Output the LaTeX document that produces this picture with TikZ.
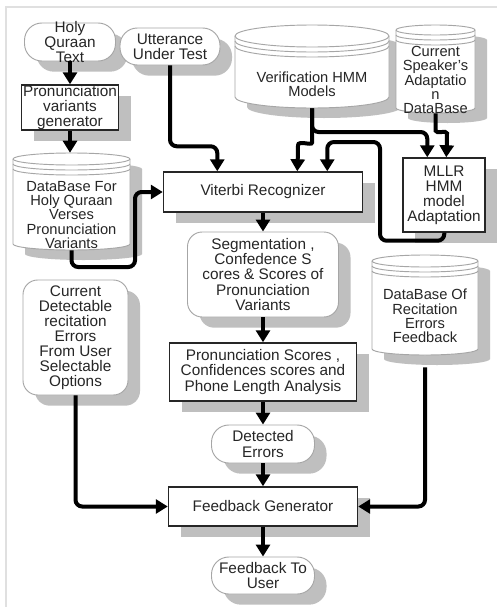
\documentclass[tikz,border=0pt]{standalone}
\usepackage{fontspec}
\setmainfont{Liberation Sans}
\usetikzlibrary{arrows.meta,shadows,fit,calc}
\newcommand\bx[7]{%
  \node[#1,minimum width=#5*0.75pt,minimum height=#6*0.75pt,name=#2] at (#3,-#4) {};
  \node[txt,name=#2t] at (#2.center) {#7};}
\newcommand\cylarc[3]{arc[start angle=#1,end angle=#2,x radius=\crx,y radius=#3]}
\newcommand\cyl[8]{%
  \pgfmathsetmacro\crx{(#4-#2)/2}%
  \pgfmathsetmacro\cyt{-(#3)-(#6)}%
  \pgfmathsetmacro\cyb{-(#5)+(#6)}%
  \pgfmathsetmacro\cya{\cyt-5}%
  \pgfmathsetmacro\cyc{\cyt-10}%
  \fill[black!25,shift={(12,-10)}] (#2,\cyt) -- (#2,\cyb) \cylarc{180}{360}{#6} -- (#4,\cyt) \cylarc{0}{180}{#6} -- cycle;
  \filldraw[cylline,fill=white] (#2,\cyt) -- (#2,\cyb) \cylarc{180}{360}{#6} -- (#4,\cyt) \cylarc{0}{180}{#6} -- cycle;
  \draw[cylline] (#2,\cyt) \cylarc{180}{360}{#6};
  \draw[cylline] (#2,\cya) \cylarc{180}{360}{#6};
  \draw[cylline] (#2,\cyc) \cylarc{180}{360}{#6};
  \node[fit={(#2,-#3) (#4,-#5)},inner sep=0pt,name=#1] {};
  \node[txt,font=\fontsize{11}{10.8}\selectfont,name=#1t] at ({(#2+#4)/2},-#7) {#8};}
\begin{document}
\begin{tikzpicture}[x=0.75pt,y=0.75pt,
  shad/.style={drop shadow={shadow xshift=9pt,shadow yshift=-8pt,fill=black!25,opacity=1}},
  rectbox/.style={draw=black!85,line width=1.1pt,fill=white,shad,inner sep=0pt},
  pill/.style={draw=black!35,line width=0.7pt,fill=white,rounded corners=13pt,shad,inner sep=0pt},
  rbox/.style={draw=black!35,line width=0.7pt,fill=white,rounded corners=11pt,shad,inner sep=0pt},
  txt/.style={align=center,inner sep=0pt,text=black!85,font=\fontsize{11.5}{11.3}\selectfont},
  conn/.style={line width=3pt,black,rounded corners=5pt,-{Triangle[length=9pt,width=10.5pt]}},
  cylline/.style={draw=black!35,line width=0.7pt},
]
\useasboundingbox (0,0) rectangle (497,-607);
\fill[white] (0,0) rectangle (497,-607);
\draw[black!12,line width=0.8pt] (6,-607) -- (6,-7) -- (497,-7);

\bx{pill}{holy}{70}{42}{91}{38}{Holy\\Quraan\\Text}
\bx{pill}{utt}{170}{46.5}{100}{37}{Utterance\\Under Test}
\bx{rectbox}{gen}{70}{107.5}{97}{45}{Pronunciation\\variants\\generator}
\cyl{verif}{235}{25}{389}{108}{11}{84}{Verification HMM\\Models}
\cyl{spk}{396}{25}{475}{113}{5}{80}{Current\\Speaker's\\Adaptatio\\n\\DataBase}
\cyl{dbholy}{13}{153}{130}{250}{6}{215}{DataBase For\\Holy Quraan\\Verses\\Pronunciation\\Variants}
\bx{rectbox}{vit}{263}{192}{199}{40}{Viterbi Recognizer}
\bx{rectbox}{mllr}{444}{195}{82}{74}{\fontsize{11.5}{12}\selectfont MLLR\\HMM\\model\\Adaptation}
\bx{rbox}{seg}{263}{274.5}{151}{85}{Segmentation ,\\Confedence S\\cores \& Scores of\\Pronunciation\\Variants}
\cyl{dbrec}{372}{255}{478}{355}{6}{316}{DataBase Of\\Recitation\\Errors\\Feedback}
\bx{rbox}{curdet}{75.5}{337.5}{105}{115}{Current\\Detectable\\recitation\\Errors\\From User\\Selectable\\Options}
\bx{rectbox}{pscore}{263}{372}{187}{58}{Pronunciation Scores ,\\Confidences scores and\\Phone Length Analysis}
\bx{pill}{det}{263}{444}{103}{38}{Detected\\Errors}
\bx{rectbox}{fg}{263}{506.5}{189}{39}{Feedback Generator}
\bx{pill}{fbu}{263}{575.5}{103}{37}{Feedback To\\User}

\draw[conn] (holy.south) -- (gen.north);
\draw[conn] (gen.south) -- (gen.south |- dbholy.north);
\draw[conn] (utt.south) |- ($(vit.north west)+(54.5,25)$) -- ($(vit.north west)+(54.5,0)$);
\draw[conn] (dbholy.south) |- (135,-267) |- (vit.west);
\draw[conn] (verif.south) -- (312,-132) -| ($(mllr.north west)+(25,0)$);
\draw[conn] (verif.south) -- (312,-136) .. controls (312,-146) and (298,-140) .. (298,-152) -- ($(vit.north west)+(134.5,0)$);
\draw[conn] (spk.south) -- (435.5,-124) .. controls (435.5,-134) and (447,-130) .. (447,-140) -- ($(mllr.north west)+(44,0)$);
\draw[conn] ($(mllr.south west)+(42,0)$) -- ++(0,-8) -| (380,-142) -| ($(vit.north west)+(164.5,0)$);
\draw[conn] (vit.south) -- (seg.north);
\draw[conn] (seg.south) -- (pscore.north);
\draw[conn] (pscore.south) -- (det.north);
\draw[conn] (det.south) -- (fg.north);
\draw[conn] (fg.south) -- (fbu.north);
\draw[conn] (curdet.south) |- (fg.west);
\draw[conn] ($(dbrec.south)+(0,-12)$) |- (fg.east);
\end{tikzpicture}
\end{document}
